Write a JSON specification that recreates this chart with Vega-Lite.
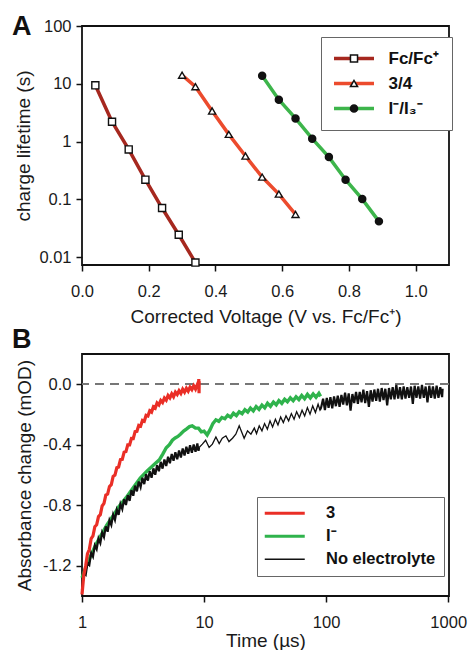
{
"$schema": "https://vega.github.io/schema/vega-lite/v6.json",
"padding": {"left": 11, "top": 12, "right": 0, "bottom": 0},
"spacing": 89,
"bounds": "flush",
"resolve": {"scale": {"color": "independent", "shape": "independent", "fill": "independent"}, "legend": {"color": "independent", "shape": "independent", "fill": "independent"}},
"config": {
 "font": "Liberation Sans",
 "view": {"stroke": "#111", "strokeWidth": 1.8},
 "axis": {"grid": false, "domain": false, "labelFontSize": 16.5, "labelColor": "#1a1a1a", "titleFontSize": 19, "titleFontWeight": "normal", "titleColor": "#1a1a1a", "tickColor": "#111", "tickWidth": 1.5, "tickSize": 6, "labelPadding": 5},
 "axisX": {"labelPadding": 12, "labelFlush": false}
},
"vconcat": [
{
 "width": 367, "height": 239,
 "title": {"text": "A", "anchor": "start", "frame": "group", "fontSize": 27, "fontWeight": "bold", "dx": -70, "offset": -44, "baseline": "alphabetic", "color": "#111"},
 "data": {"values": [
  {"v":0.04,"tau":9.4,"redox":"Fc/Fc⁺","marker":"Fc/Fc⁺ "},
  {"v":0.09,"tau":2.2,"redox":"Fc/Fc⁺","marker":"Fc/Fc⁺ "},
  {"v":0.14,"tau":0.73,"redox":"Fc/Fc⁺","marker":"Fc/Fc⁺ "},
  {"v":0.19,"tau":0.218,"redox":"Fc/Fc⁺","marker":"Fc/Fc⁺ "},
  {"v":0.24,"tau":0.0705,"redox":"Fc/Fc⁺","marker":"Fc/Fc⁺ "},
  {"v":0.29,"tau":0.0243,"redox":"Fc/Fc⁺","marker":"Fc/Fc⁺ "},
  {"v":0.34,"tau":0.008,"redox":"Fc/Fc⁺","marker":"Fc/Fc⁺ "},
  {"v":0.30,"tau":14.1,"redox":"3/4","marker":"3/4 "},
  {"v":0.34,"tau":8.9,"redox":"3/4","marker":"3/4 "},
  {"v":0.39,"tau":3.37,"redox":"3/4","marker":"3/4 "},
  {"v":0.44,"tau":1.33,"redox":"3/4","marker":"3/4 "},
  {"v":0.49,"tau":0.56,"redox":"3/4","marker":"3/4 "},
  {"v":0.54,"tau":0.242,"redox":"3/4","marker":"3/4 "},
  {"v":0.59,"tau":0.123,"redox":"3/4","marker":"3/4 "},
  {"v":0.64,"tau":0.0547,"redox":"3/4","marker":"3/4 "},
  {"v":0.54,"tau":13.7,"redox":"I⁻/I₃⁻","marker":"I⁻/I₃⁻ "},
  {"v":0.59,"tau":5.28,"redox":"I⁻/I₃⁻","marker":"I⁻/I₃⁻ "},
  {"v":0.64,"tau":2.51,"redox":"I⁻/I₃⁻","marker":"I⁻/I₃⁻ "},
  {"v":0.69,"tau":1.12,"redox":"I⁻/I₃⁻","marker":"I⁻/I₃⁻ "},
  {"v":0.74,"tau":0.537,"redox":"I⁻/I₃⁻","marker":"I⁻/I₃⁻ "},
  {"v":0.79,"tau":0.218,"redox":"I⁻/I₃⁻","marker":"I⁻/I₃⁻ "},
  {"v":0.84,"tau":0.1007,"redox":"I⁻/I₃⁻","marker":"I⁻/I₃⁻ "},
  {"v":0.89,"tau":0.0414,"redox":"I⁻/I₃⁻","marker":"I⁻/I₃⁻ "}
 ]},
 "encoding": {
  "x": {"field": "v", "type": "quantitative", "scale": {"domain": [0, 1.1], "nice": false, "zero": false}, "axis": {"values": [0, 0.2, 0.4, 0.6, 0.8, 1.0], "format": ".1f", "title": "Corrected Voltage (V vs. Fc/Fc⁺)", "titlePadding": 8}},
  "y": {"field": "tau", "type": "quantitative", "scale": {"type": "log", "domain": [0.00727, 100], "nice": false}, "axis": {"values": [0.01, 0.1, 1, 10, 100], "format": "~g", "title": "charge lifetime (s)", "titlePadding": 5}}
 },
 "layer": [
  {"mark": {"type": "line", "strokeWidth": 3.5},
   "encoding": {
    "color": {"field": "redox", "type": "nominal", "scale": {"domain": ["Fc/Fc⁺", "3/4", "I⁻/I₃⁻"], "range": ["#a6281f", "#ec4b2d", "#3db54b"]},
     "legend": {"title": null, "orient": "none", "legendX": 239, "legendY": 11, "symbolType": "M-3.077,0H3.077", "symbolSize": 169, "symbolStrokeWidth": 3.5, "symbolOffset": 11.5, "labelFontSize": 17, "labelFontWeight": "bold", "labelColor": "#111", "padding": 13, "rowPadding": 7, "labelOffset": 26, "strokeColor": "#666", "fillColor": "white"}}
   }},
  {"mark": {"type": "point", "filled": true, "size": 50, "stroke": "#111", "strokeWidth": 1.4, "opacity": 1},
   "encoding": {
    "shape": {"field": "marker", "type": "nominal", "scale": {"domain": ["Fc/Fc⁺ ", "3/4 ", "I⁻/I₃⁻ "], "range": ["square", "triangle-up", "circle"]},
     "legend": {"title": null, "orient": "none", "legendX": 239, "legendY": 11, "symbolSize": 50, "symbolOffset": 11.5, "labelFontSize": 17, "labelFontWeight": "bold", "labelOpacity": 0, "padding": 13, "rowPadding": 7, "labelOffset": 26,
      "encode": {"symbols": {"update": {"fill": {"signal": "datum.value === 'I⁻/I₃⁻ ' ? '#111111' : '#ffffff'"}, "stroke": {"value": "#111111"}, "strokeWidth": {"value": 1.4}, "opacity": {"value": 1}, "fillOpacity": {"value": 1}, "strokeOpacity": {"value": 1}}}}}},
    "fill": {"field": "marker", "type": "nominal", "scale": {"domain": ["Fc/Fc⁺ ", "3/4 ", "I⁻/I₃⁻ "], "range": ["white", "white", "#111"]}, "legend": null}
   }}
 ]
},
{
 "width": 367, "height": 242,
 "title": {"text": "B", "anchor": "start", "frame": "group", "fontSize": 27, "fontWeight": "bold", "dx": -70, "offset": -21, "baseline": "alphabetic", "color": "#111"},
 "data": {"values": [
  {"t":1.000,"a":-1.28,"s":"I⁻"},{"t":1.1,"a":-1.19,"s":"I⁻"},{"t":1.2,"a":-1.12,"s":"I⁻"},{"t":1.3,"a":-1.06,"s":"I⁻"},{"t":1.45,"a":-0.99,"s":"I⁻"},{"t":1.6,"a":-0.93,"s":"I⁻"},{"t":1.8,"a":-0.87,"s":"I⁻"},{"t":2.0,"a":-0.81,"s":"I⁻"},{"t":2.3,"a":-0.75,"s":"I⁻"},{"t":2.6,"a":-0.69,"s":"I⁻"},{"t":3.0,"a":-0.62,"s":"I⁻"},{"t":3.4,"a":-0.575,"s":"I⁻"},{"t":3.9,"a":-0.53,"s":"I⁻"},{"t":4.3,"a":-0.50,"s":"I⁻"},{"t":4.6,"a":-0.46,"s":"I⁻"},{"t":4.9,"a":-0.42,"s":"I⁻"},{"t":5.2,"a":-0.40,"s":"I⁻"},{"t":5.5,"a":-0.37,"s":"I⁻"},{"t":5.8,"a":-0.355,"s":"I⁻"},{"t":6.1,"a":-0.345,"s":"I⁻"},{"t":6.4,"a":-0.33,"s":"I⁻"},{"t":6.8,"a":-0.31,"s":"I⁻"},{"t":7.2,"a":-0.295,"s":"I⁻"},{"t":7.6,"a":-0.28,"s":"I⁻"},{"t":8.0,"a":-0.275,"s":"I⁻"},{"t":8.5,"a":-0.29,"s":"I⁻"},{"t":9.0,"a":-0.29,"s":"I⁻"},{"t":9.5,"a":-0.315,"s":"I⁻"},{"t":10.0,"a":-0.31,"s":"I⁻"},{"t":10.6,"a":-0.335,"s":"I⁻"},{"t":11.2,"a":-0.30,"s":"I⁻"},{"t":11.8,"a":-0.26,"s":"I⁻"},{"t":12.5,"a":-0.235,"s":"I⁻"},{"t":13.2,"a":-0.245,"s":"I⁻"},{"t":14.0,"a":-0.22,"s":"I⁻"},{"t":14.8,"a":-0.228,"s":"I⁻"},{"t":15.6,"a":-0.205,"s":"I⁻"},{"t":16.5,"a":-0.218,"s":"I⁻"},{"t":17.4,"a":-0.192,"s":"I⁻"},{"t":18.4,"a":-0.207,"s":"I⁻"},{"t":19.4,"a":-0.182,"s":"I⁻"},{"t":20.5,"a":-0.195,"s":"I⁻"},{"t":21.6,"a":-0.168,"s":"I⁻"},{"t":22.8,"a":-0.184,"s":"I⁻"},{"t":24.0,"a":-0.158,"s":"I⁻"},{"t":25.3,"a":-0.176,"s":"I⁻"},{"t":26.7,"a":-0.148,"s":"I⁻"},{"t":28.2,"a":-0.166,"s":"I⁻"},{"t":29.8,"a":-0.138,"s":"I⁻"},{"t":31.4,"a":-0.156,"s":"I⁻"},{"t":33.1,"a":-0.126,"s":"I⁻"},{"t":35.0,"a":-0.146,"s":"I⁻"},{"t":37.0,"a":-0.118,"s":"I⁻"},{"t":39.0,"a":-0.136,"s":"I⁻"},{"t":41.0,"a":-0.108,"s":"I⁻"},{"t":43.3,"a":-0.126,"s":"I⁻"},{"t":45.7,"a":-0.099,"s":"I⁻"},{"t":48.2,"a":-0.116,"s":"I⁻"},{"t":50.9,"a":-0.09,"s":"I⁻"},{"t":53.7,"a":-0.109,"s":"I⁻"},{"t":56.7,"a":-0.083,"s":"I⁻"},{"t":59.8,"a":-0.101,"s":"I⁻"},{"t":63.1,"a":-0.074,"s":"I⁻"},{"t":66.6,"a":-0.096,"s":"I⁻"},{"t":70.3,"a":-0.067,"s":"I⁻"},{"t":74.2,"a":-0.09,"s":"I⁻"},{"t":78.3,"a":-0.064,"s":"I⁻"},{"t":82.6,"a":-0.086,"s":"I⁻"},{"t":87.2,"a":-0.06,"s":"I⁻"},{"t":90.0,"a":-0.08,"s":"I⁻"},

  {"t":1.000,"a":-1.36,"s":"No electrolyte"},{"t":1.035,"a":-1.25,"s":"No electrolyte"},{"t":1.072,"a":-1.26,"s":"No electrolyte"},{"t":1.109,"a":-1.18,"s":"No electrolyte"},{"t":1.148,"a":-1.195,"s":"No electrolyte"},{"t":1.189,"a":-1.115,"s":"No electrolyte"},{"t":1.230,"a":-1.14,"s":"No electrolyte"},{"t":1.274,"a":-1.065,"s":"No electrolyte"},{"t":1.318,"a":-1.09,"s":"No electrolyte"},{"t":1.365,"a":-1.02,"s":"No electrolyte"},{"t":1.413,"a":-1.05,"s":"No electrolyte"},{"t":1.462,"a":-0.98,"s":"No electrolyte"},{"t":1.514,"a":-1.01,"s":"No electrolyte"},{"t":1.567,"a":-0.94,"s":"No electrolyte"},{"t":1.622,"a":-0.975,"s":"No electrolyte"},{"t":1.679,"a":-0.9,"s":"No electrolyte"},{"t":1.738,"a":-0.93,"s":"No electrolyte"},{"t":1.799,"a":-0.862,"s":"No electrolyte"},{"t":1.862,"a":-0.897,"s":"No electrolyte"},{"t":1.928,"a":-0.83,"s":"No electrolyte"},{"t":1.995,"a":-0.864,"s":"No electrolyte"},{"t":2.065,"a":-0.792,"s":"No electrolyte"},{"t":2.138,"a":-0.825,"s":"No electrolyte"},{"t":2.213,"a":-0.76,"s":"No electrolyte"},{"t":2.291,"a":-0.798,"s":"No electrolyte"},{"t":2.371,"a":-0.733,"s":"No electrolyte"},{"t":2.455,"a":-0.771,"s":"No electrolyte"},{"t":2.541,"a":-0.70,"s":"No electrolyte"},{"t":2.630,"a":-0.737,"s":"No electrolyte"},{"t":2.723,"a":-0.67,"s":"No electrolyte"},{"t":2.818,"a":-0.708,"s":"No electrolyte"},{"t":2.917,"a":-0.643,"s":"No electrolyte"},{"t":3.020,"a":-0.68,"s":"No electrolyte"},{"t":3.126,"a":-0.618,"s":"No electrolyte"},{"t":3.236,"a":-0.66,"s":"No electrolyte"},{"t":3.350,"a":-0.595,"s":"No electrolyte"},{"t":3.467,"a":-0.637,"s":"No electrolyte"},{"t":3.589,"a":-0.575,"s":"No electrolyte"},{"t":3.715,"a":-0.618,"s":"No electrolyte"},{"t":3.846,"a":-0.556,"s":"No electrolyte"},{"t":3.981,"a":-0.598,"s":"No electrolyte"},{"t":4.121,"a":-0.535,"s":"No electrolyte"},{"t":4.266,"a":-0.575,"s":"No electrolyte"},{"t":4.416,"a":-0.513,"s":"No electrolyte"},{"t":4.571,"a":-0.558,"s":"No electrolyte"},{"t":4.732,"a":-0.498,"s":"No electrolyte"},{"t":4.898,"a":-0.541,"s":"No electrolyte"},{"t":5.070,"a":-0.479,"s":"No electrolyte"},{"t":5.248,"a":-0.522,"s":"No electrolyte"},{"t":5.433,"a":-0.461,"s":"No electrolyte"},{"t":5.623,"a":-0.506,"s":"No electrolyte"},{"t":5.821,"a":-0.449,"s":"No electrolyte"},{"t":6.026,"a":-0.496,"s":"No electrolyte"},{"t":6.237,"a":-0.438,"s":"No electrolyte"},{"t":6.457,"a":-0.484,"s":"No electrolyte"},{"t":6.683,"a":-0.425,"s":"No electrolyte"},{"t":6.918,"a":-0.471,"s":"No electrolyte"},{"t":7.161,"a":-0.413,"s":"No electrolyte"},{"t":7.413,"a":-0.46,"s":"No electrolyte"},{"t":7.674,"a":-0.404,"s":"No electrolyte"},{"t":7.943,"a":-0.453,"s":"No electrolyte"},{"t":8.222,"a":-0.398,"s":"No electrolyte"},{"t":8.511,"a":-0.447,"s":"No electrolyte"},{"t":8.810,"a":-0.391,"s":"No electrolyte"},{"t":9.000,"a":-0.44,"s":"No electrolyte"},
  {"t":9.1,"a":-0.418,"s":"No electrolyte"},{"t":9.68,"a":-0.396,"s":"No electrolyte"},{"t":10.3,"a":-0.37,"s":"No electrolyte"},{"t":11.0,"a":-0.418,"s":"No electrolyte"},{"t":11.7,"a":-0.396,"s":"No electrolyte"},{"t":12.5,"a":-0.348,"s":"No electrolyte"},{"t":13.3,"a":-0.392,"s":"No electrolyte"},{"t":14.1,"a":-0.357,"s":"No electrolyte"},{"t":15.1,"a":-0.341,"s":"No electrolyte"},{"t":16.0,"a":-0.379,"s":"No electrolyte"},{"t":17.1,"a":-0.357,"s":"No electrolyte"},{"t":18.2,"a":-0.33,"s":"No electrolyte"},{"t":19.4,"a":-0.275,"s":"No electrolyte"},{"t":20.4,"a":-0.319,"s":"No electrolyte"},{"t":21.3,"a":-0.357,"s":"No electrolyte"},{"t":22.7,"a":-0.308,"s":"No electrolyte"},{"t":24.2,"a":-0.33,"s":"No electrolyte"},{"t":25.8,"a":-0.29,"s":"No electrolyte"},{"t":26.9,"a":-0.326,"s":"No electrolyte"},{"t":28.3,"a":-0.275,"s":"No electrolyte"},{"t":29.8,"a":-0.308,"s":"No electrolyte"},{"t":31.3,"a":-0.26,"s":"No electrolyte"},{"t":33.0,"a":-0.297,"s":"No electrolyte"},{"t":34.7,"a":-0.242,"s":"No electrolyte"},{"t":36.4,"a":-0.282,"s":"No electrolyte"},{"t":38.4,"a":-0.231,"s":"No electrolyte"},{"t":40.3,"a":-0.269,"s":"No electrolyte"},{"t":42.4,"a":-0.216,"s":"No electrolyte"},{"t":44.6,"a":-0.253,"s":"No electrolyte"},{"t":46.9,"a":-0.209,"s":"No electrolyte"},{"t":49.3,"a":-0.242,"s":"No electrolyte"},{"t":51.9,"a":-0.194,"s":"No electrolyte"},{"t":54.6,"a":-0.231,"s":"No electrolyte"},{"t":57.3,"a":-0.181,"s":"No electrolyte"},{"t":60.4,"a":-0.22,"s":"No electrolyte"},{"t":63.5,"a":-0.172,"s":"No electrolyte"},{"t":66.7,"a":-0.209,"s":"No electrolyte"},{"t":70.2,"a":-0.154,"s":"No electrolyte"},{"t":73.8,"a":-0.198,"s":"No electrolyte"},{"t":77.6,"a":-0.143,"s":"No electrolyte"},{"t":81.7,"a":-0.187,"s":"No electrolyte"},{"t":85.9,"a":-0.132,"s":"No electrolyte"},{"t":89.0,"a":-0.17,"s":"No electrolyte"},
  {"t":91.2,"a":-0.15,"s":"No electrolyte"},{"t":94.4,"a":-0.095,"s":"No electrolyte"},{"t":97.7,"a":-0.17,"s":"No electrolyte"},{"t":101.2,"a":-0.09,"s":"No electrolyte"},{"t":104.7,"a":-0.155,"s":"No electrolyte"},{"t":108.4,"a":-0.085,"s":"No electrolyte"},{"t":112.2,"a":-0.16,"s":"No electrolyte"},{"t":116.1,"a":-0.08,"s":"No electrolyte"},{"t":120.2,"a":-0.145,"s":"No electrolyte"},{"t":124.5,"a":-0.075,"s":"No electrolyte"},{"t":128.8,"a":-0.15,"s":"No electrolyte"},{"t":133.4,"a":-0.07,"s":"No electrolyte"},{"t":138.0,"a":-0.135,"s":"No electrolyte"},{"t":142.9,"a":-0.055,"s":"No electrolyte"},{"t":147.9,"a":-0.14,"s":"No electrolyte"},{"t":153.1,"a":-0.06,"s":"No electrolyte"},{"t":158.5,"a":-0.175,"s":"No electrolyte"},{"t":164.1,"a":-0.065,"s":"No electrolyte"},{"t":169.8,"a":-0.125,"s":"No electrolyte"},{"t":175.8,"a":-0.05,"s":"No electrolyte"},{"t":182.0,"a":-0.13,"s":"No electrolyte"},{"t":188.4,"a":-0.05,"s":"No electrolyte"},{"t":195.0,"a":-0.12,"s":"No electrolyte"},{"t":201.8,"a":-0.035,"s":"No electrolyte"},{"t":208.9,"a":-0.125,"s":"No electrolyte"},{"t":216.3,"a":-0.045,"s":"No electrolyte"},{"t":223.9,"a":-0.15,"s":"No electrolyte"},{"t":231.7,"a":-0.04,"s":"No electrolyte"},{"t":239.9,"a":-0.115,"s":"No electrolyte"},{"t":248.3,"a":-0.035,"s":"No electrolyte"},{"t":257.0,"a":-0.11,"s":"No electrolyte"},{"t":266.1,"a":-0.03,"s":"No electrolyte"},{"t":275.4,"a":-0.115,"s":"No electrolyte"},{"t":285.1,"a":-0.025,"s":"No electrolyte"},{"t":295.1,"a":-0.105,"s":"No electrolyte"},{"t":305.5,"a":-0.03,"s":"No electrolyte"},{"t":316.2,"a":-0.14,"s":"No electrolyte"},{"t":327.3,"a":-0.025,"s":"No electrolyte"},{"t":338.8,"a":-0.1,"s":"No electrolyte"},{"t":350.8,"a":-0.02,"s":"No electrolyte"},{"t":363.1,"a":-0.1,"s":"No electrolyte"},{"t":375.8,"a":-0.005,"s":"No electrolyte"},{"t":389.0,"a":-0.095,"s":"No electrolyte"},{"t":402.7,"a":-0.02,"s":"No electrolyte"},{"t":416.9,"a":-0.1,"s":"No electrolyte"},{"t":431.5,"a":-0.015,"s":"No electrolyte"},{"t":446.7,"a":-0.095,"s":"No electrolyte"},{"t":462.4,"a":-0.02,"s":"No electrolyte"},{"t":478.6,"a":-0.09,"s":"No electrolyte"},{"t":495.5,"a":-0.015,"s":"No electrolyte"},{"t":512.9,"a":-0.13,"s":"No electrolyte"},{"t":530.9,"a":-0.01,"s":"No electrolyte"},{"t":549.5,"a":-0.09,"s":"No electrolyte"},{"t":568.9,"a":-0.015,"s":"No electrolyte"},{"t":588.8,"a":-0.095,"s":"No electrolyte"},{"t":609.5,"a":-0.005,"s":"No electrolyte"},{"t":631.0,"a":-0.09,"s":"No electrolyte"},{"t":653.1,"a":-0.015,"s":"No electrolyte"},{"t":676.1,"a":-0.12,"s":"No electrolyte"},{"t":699.8,"a":-0.01,"s":"No electrolyte"},{"t":724.4,"a":-0.09,"s":"No electrolyte"},{"t":749.9,"a":-0.015,"s":"No electrolyte"},{"t":776.2,"a":-0.095,"s":"No electrolyte"},{"t":803.5,"a":-0.01,"s":"No electrolyte"},{"t":831.8,"a":-0.09,"s":"No electrolyte"},{"t":861.0,"a":-0.02,"s":"No electrolyte"},{"t":891.3,"a":-0.085,"s":"No electrolyte"},{"t":900.0,"a":-0.03,"s":"No electrolyte"},

  {"t":1.000,"a":-1.39,"s":"3"},{"t":1.035,"a":-1.26,"s":"3"},{"t":1.072,"a":-1.20,"s":"3"},{"t":1.109,"a":-1.12,"s":"3"},{"t":1.148,"a":-1.093,"s":"3"},{"t":1.189,"a":-1.02,"s":"3"},{"t":1.230,"a":-1.003,"s":"3"},{"t":1.274,"a":-0.942,"s":"3"},{"t":1.318,"a":-0.929,"s":"3"},{"t":1.365,"a":-0.875,"s":"3"},{"t":1.413,"a":-0.862,"s":"3"},{"t":1.462,"a":-0.805,"s":"3"},{"t":1.514,"a":-0.788,"s":"3"},{"t":1.567,"a":-0.733,"s":"3"},{"t":1.622,"a":-0.726,"s":"3"},{"t":1.679,"a":-0.676,"s":"3"},{"t":1.738,"a":-0.664,"s":"3"},{"t":1.799,"a":-0.61,"s":"3"},{"t":1.862,"a":-0.601,"s":"3"},{"t":1.928,"a":-0.552,"s":"3"},{"t":1.995,"a":-0.547,"s":"3"},{"t":2.065,"a":-0.499,"s":"3"},{"t":2.138,"a":-0.497,"s":"3"},{"t":2.213,"a":-0.449,"s":"3"},{"t":2.291,"a":-0.445,"s":"3"},{"t":2.371,"a":-0.401,"s":"3"},{"t":2.455,"a":-0.401,"s":"3"},{"t":2.541,"a":-0.358,"s":"3"},{"t":2.630,"a":-0.359,"s":"3"},{"t":2.723,"a":-0.313,"s":"3"},{"t":2.818,"a":-0.311,"s":"3"},{"t":2.917,"a":-0.272,"s":"3"},{"t":3.020,"a":-0.277,"s":"3"},{"t":3.126,"a":-0.239,"s":"3"},{"t":3.236,"a":-0.245,"s":"3"},{"t":3.350,"a":-0.206,"s":"3"},{"t":3.467,"a":-0.21,"s":"3"},{"t":3.589,"a":-0.175,"s":"3"},{"t":3.715,"a":-0.184,"s":"3"},{"t":3.846,"a":-0.149,"s":"3"},{"t":3.981,"a":-0.158,"s":"3"},{"t":4.121,"a":-0.124,"s":"3"},{"t":4.266,"a":-0.136,"s":"3"},{"t":4.416,"a":-0.107,"s":"3"},{"t":4.571,"a":-0.121,"s":"3"},{"t":4.732,"a":-0.091,"s":"3"},{"t":4.898,"a":-0.105,"s":"3"},{"t":5.070,"a":-0.074,"s":"3"},{"t":5.248,"a":-0.09,"s":"3"},{"t":5.433,"a":-0.063,"s":"3"},{"t":5.623,"a":-0.082,"s":"3"},{"t":5.821,"a":-0.052,"s":"3"},{"t":6.026,"a":-0.068,"s":"3"},{"t":6.237,"a":-0.043,"s":"3"},{"t":6.457,"a":-0.061,"s":"3"},{"t":6.683,"a":-0.033,"s":"3"},{"t":6.918,"a":-0.052,"s":"3"},{"t":7.161,"a":-0.027,"s":"3"},{"t":7.413,"a":-0.046,"s":"3"},{"t":7.674,"a":-0.019,"s":"3"},{"t":7.943,"a":-0.036,"s":"3"},{"t":8.222,"a":-0.01,"s":"3"},{"t":8.511,"a":-0.032,"s":"3"},{"t":8.810,"a":-0.002,"s":"3"},{"t":9.000,"a":-0.03,"s":"3"},{"t":9.05,"a":0.035,"s":"3"},{"t":9.10,"a":-0.06,"s":"3"},{"t":9.12,"a":0.02,"s":"3"}
 ]},
 "encoding": {
  "x": {"field": "t", "type": "quantitative", "scale": {"type": "log", "domain": [1, 1015], "nice": false}, "axis": {"values": [1, 10, 100, 1000], "format": "~g", "title": "Time (µs)", "titlePadding": 1}},
  "y": {"field": "a", "type": "quantitative", "scale": {"domain": [-1.4, 0.2], "nice": false, "zero": false}, "axis": {"values": [-1.2, -0.8, -0.4, 0], "labelExpr": "datum.value < 0 ? '-' + format(-datum.value, '.1f') : format(datum.value, '.1f')", "title": "Absorbance change (mOD)", "titlePadding": 8}}
 },
 "layer": [
  {"mark": {"type": "rule", "color": "#777", "strokeDash": [9, 6], "strokeWidth": 1.5}, "encoding": {"y": {"datum": 0}, "x": null}},
  {"transform": [{"filter": "datum.s === 'I⁻'"}],
   "mark": {"type": "line", "strokeWidth": 3.4},
   "encoding": {"color": {"field": "s", "type": "nominal", "scale": {"domain": ["3", "I⁻", "No electrolyte"], "range": ["#ea2e26", "#2fb34c", "#111111"]},
     "legend": {"title": null, "orient": "none", "legendX": 175, "legendY": 143, "symbolType": "M-3.077,0H3.077", "symbolSize": 169, "symbolStrokeWidth": 3, "symbolOffset": 11.5, "labelFontSize": 16.5, "labelFontWeight": "bold", "labelColor": "#111", "padding": 8, "rowPadding": 6, "labelOffset": 33, "strokeColor": "#666", "fillColor": "white",
      "encode": {"symbols": {"update": {"strokeWidth": {"signal": "datum.value === 'No electrolyte' ? 1.6 : 3"}}}}}}}},
  {"transform": [{"filter": "datum.s === 'No electrolyte' && datum.t <= 9.1"}],
   "mark": {"type": "line", "strokeWidth": 2.2},
   "encoding": {"color": {"field": "s", "type": "nominal"}}},
  {"transform": [{"filter": "datum.s === 'No electrolyte' && datum.t >= 9 && datum.t <= 91.3"}],
   "mark": {"type": "line", "strokeWidth": 1.3},
   "encoding": {"color": {"field": "s", "type": "nominal"}}},
  {"transform": [{"filter": "datum.s === 'No electrolyte' && datum.t >= 89"}],
   "mark": {"type": "line", "strokeWidth": 2.2},
   "encoding": {"color": {"field": "s", "type": "nominal"}}},
  {"transform": [{"filter": "datum.s === '3'"}],
   "mark": {"type": "line", "strokeWidth": 3.2},
   "encoding": {"color": {"field": "s", "type": "nominal"}}}
 ]
}
]
}
